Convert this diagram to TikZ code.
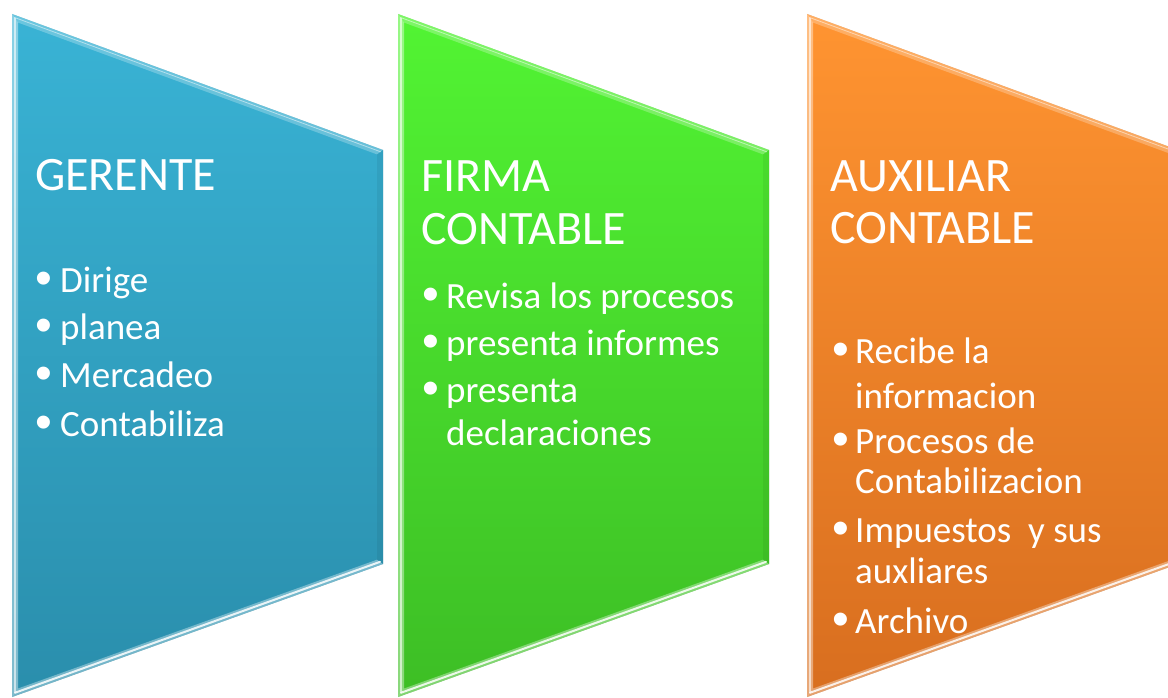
\documentclass[tikz,border=0pt]{standalone}
\usepackage{fontspec}
\setmainfont{Carlito}
\newfontfamily\vinfont{Liberation Sans}
\usetikzlibrary{calc}
\definecolor{azulA}{HTML}{39B3D5}
\definecolor{azulB}{HTML}{2A8EAC}
\definecolor{verdeA}{HTML}{52F433}
\definecolor{verdeB}{HTML}{3DBE25}
\definecolor{naranjaA}{HTML}{FF9431}
\definecolor{naranjaB}{HTML}{D86E1F}
\tikzset{
  titulo/.style={anchor=base west, inner sep=0pt, text=white, font=\fontsize{48}{52}\selectfont},
  linea/.style={anchor=base west, inner sep=0pt, text=white, font=\fontsize{37}{43}\selectfont},
  punto/.style={anchor=base west, inner sep=0pt, text=white, yshift=-2pt, font=\vinfont\fontsize{48}{52}\selectfont},
}
\begin{document}
\begin{tikzpicture}[x=1pt, y=-1pt, line join=round, line cap=round]
  \useasboundingbox (0,0) rectangle (1168,698);
  \clip (0,0) rectangle (1168,698);
  % the three pentagons
  \foreach \sx/\ca/\cb/\nm in {12/azulA/azulB/ger, 398/verdeA/verdeB/fir, 807/naranjaA/naranjaB/aux}{
    \coordinate (\nm-a) at (\sx,14);
    \coordinate (\nm-b) at (\sx+371,150);
    \coordinate (\nm-c) at (\sx+371,564);
    \coordinate (\nm-d) at (\sx,697);
    \coordinate (\nm-ia) at (\sx+6,22.6);
    \coordinate (\nm-ib) at (\sx+365,154.4);
    \coordinate (\nm-ic) at (\sx+365,559.7);
    \coordinate (\nm-id) at (\sx+6,688.5);
    \fill[black, opacity=.18, shift={(2,3)}] (\nm-a)--(\nm-b)--(\nm-c)--(\nm-d)--cycle;
    \shade[top color=\ca, bottom color=\cb] (\nm-a)--(\nm-b)--(\nm-c)--(\nm-d)--cycle;
    % bevel
    \fill[white, opacity=.4] (\nm-a)--(\nm-d)--(\nm-id)--(\nm-ia)--cycle;
    \fill[white, opacity=.25] (\nm-a)--(\nm-b)--(\nm-ib)--(\nm-ia)--cycle;
    \fill[white, opacity=.35] (\nm-d)--(\nm-c)--(\nm-ic)--(\nm-id)--cycle;
    \fill[black, opacity=.06] (\nm-b)--(\nm-c)--(\nm-ic)--(\nm-ib)--cycle;
    \draw[white, opacity=.85, line width=2pt] ($(\nm-d)!.5!(\nm-id)$)--($(\nm-c)!.5!(\nm-ic)$);
    \draw[white, opacity=.6, line width=1.4pt] ($(\nm-a)!.5!(\nm-ia)$)--($(\nm-d)!.5!(\nm-id)$);
    \draw[white, opacity=.5, line width=.8pt] ($(\nm-a)!.4!(\nm-ia)$)--($(\nm-b)!.4!(\nm-ib)$);
  }
  % titles
  \node[titulo] (gerente) at (35,191) {GERENTE};
  \node[titulo] (firma) at (421,192) {FIRMA};
  \node[titulo] (firma2) at (421,244) {CONTABLE};
  \node[titulo] (auxiliar) at (830,192) {AUXILIAR};
  \node[titulo] (auxiliar2) at (830,243) {CONTABLE};
  % bullet lines
  \foreach \y/\t [count=\i] in {292/Dirige, 339/planea, 387/Mercadeo, 436/Contabiliza}{
    \node[punto] (ger-p\i) at (35,\y) {\textbullet};
    \node[linea] (ger-\i) at (60,\y) {\t};
  }
  \foreach \y/\b/\t [count=\i] in {308/1/Revisa los procesos, 355/1/presenta informes,
      402/1/presenta, 445/0/declaraciones}{
    \node[linea] (fir-\i) at (446,\y) {\t};
    \ifnum\b=1 \node[punto] (fir-p\i) at (422,\y) {\textbullet}; \fi
  }
  \foreach \y/\b/\t [count=\i] in {363/1/Recibe la, 408/0/informacion, 453/1/Procesos de,
      493/0/Contabilizacion, 542/1/Impuestos\ \ y sus, 583/0/auxliares, 633/1/Archivo}{
    \node[linea] (aux-\i) at (855,\y) {\t};
    \ifnum\b=1 \node[punto] (aux-p\i) at (832,\y) {\textbullet}; \fi
  }
\end{tikzpicture}
\end{document}
